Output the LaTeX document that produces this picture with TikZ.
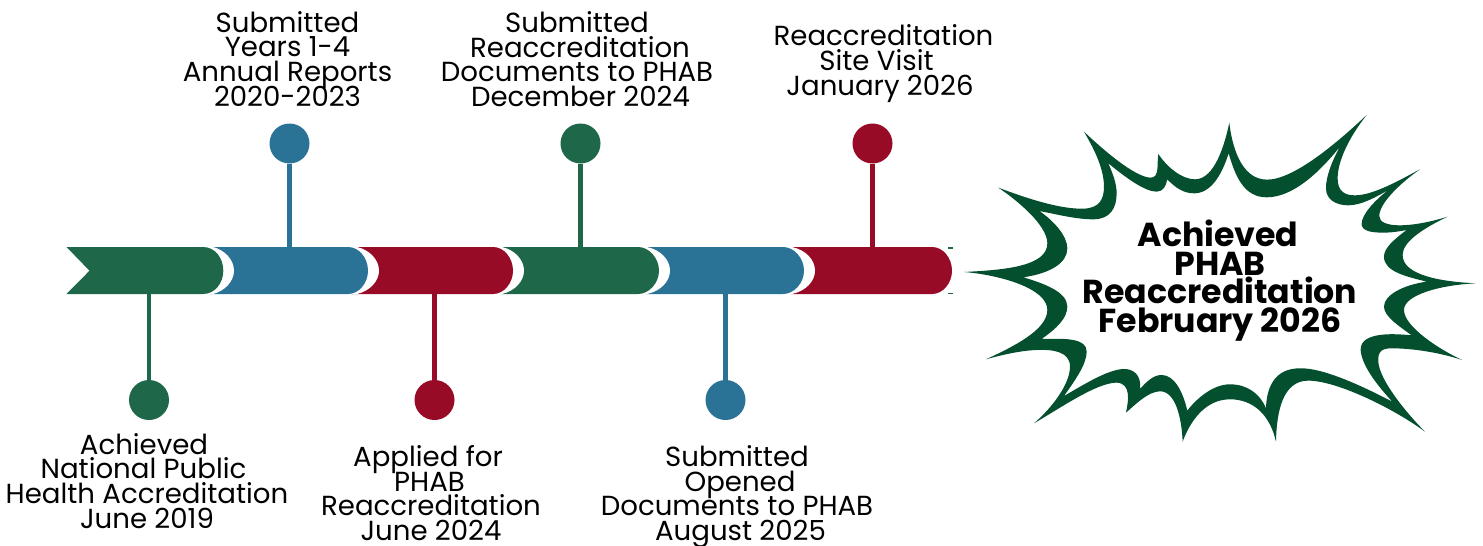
\documentclass[tikz,border=0pt]{standalone}
\usepackage{fontspec}
\setmainfont{Poppins}
\definecolor{tgreen}{HTML}{1E6849}
\definecolor{tblue}{HTML}{2A7396}
\definecolor{tred}{HTML}{970B26}
\definecolor{burst}{HTML}{034F2E}
\newcommand{\rs}[1]{\kern#1pt\hbox{}}
\newcommand{\ls}[1]{\hbox{}\kern#1pt}
\lineskiplimit=-100pt
\tikzset{
  dotnode/.style={circle,minimum size=40pt,inner sep=0pt,fill=#1,draw=none},
  stem/.style={line width=4.8pt,draw=#1},
  lab/.style={align=center,inner sep=0pt,font=\fontsize{27.6}{24.7}\selectfont},
  boldlab/.style={align=center,inner sep=0pt,font=\fontsize{33.2}{28.6}\selectfont\bfseries},
}
% start x, straight end x, tip x, colour
\newcommand{\barseg}[4]{%
  \fill[white] (#2-10,247) -- (#2+9,247) .. controls (#3+2,250) and (#3+11,260) .. (#3+11,270.7) .. controls (#3+11,281) and (#3+2,291) .. (#2+9,294) -- (#2-10,294) -- cycle;
  \fill[#4] (#1,247) -- (#2,247) .. controls (#2+11,247) and (#3,258) .. (#3,270.7) .. controls (#3,283) and (#2+11,294) .. (#2,294) -- (#1,294) -- cycle;
}
\begin{document}
\begin{tikzpicture}[x=1pt,y=-1pt]
\useasboundingbox (0,0) rectangle (1483,546);
% specks of the hidden next segment
\fill[tgreen] (948,247) rectangle (953,248.5);
\fill[tgreen] (948,292.5) rectangle (953,294);
% bar, right to left
\barseg{790}{932}{952}{tred}
\barseg{645}{783}{804}{tblue}
\barseg{500}{638}{659}{tgreen}
\barseg{352}{493}{513}{tred}
\barseg{210}{348}{368}{tblue}
\fill[white] (190,247) -- (213,247) .. controls (225,250) and (234,260) .. (234,270.7) .. controls (234,281) and (225,291) .. (213,294) -- (190,294) -- cycle;
\fill[tgreen] (66.5,247) -- (203,247) .. controls (215,247) and (223.3,258) .. (223.3,270.7) .. controls (223.3,283) and (215,294) .. (203,294) -- (66.5,294) -- (89.5,270.7) -- cycle;
% anchors on the bar
\coordinate (b1) at (149,293);
\coordinate (b2) at (289.5,248);
\coordinate (b3) at (434.5,293);
\coordinate (b4) at (580.5,248);
\coordinate (b5) at (725.5,293);
\coordinate (b6) at (872.5,248);
% dots
\node[dotnode=tgreen] (d1) at (149,400) {};
\node[dotnode=tblue]  (d2) at (289.5,143.5) {};
\node[dotnode=tred]   (d3) at (434.5,400) {};
\node[dotnode=tgreen] (d4) at (580.5,143.5) {};
\node[dotnode=tblue]  (d5) at (725.5,400) {};
\node[dotnode=tred]   (d6) at (872.5,143.5) {};
% stems
\draw[stem=tgreen] (d1) -- (b1);
\draw[stem=tblue]  (d2) -- (b2);
\draw[stem=tred]   (d3) -- (b3);
\draw[stem=tgreen] (d4) -- (b4);
\draw[stem=tblue]  (d5) -- (b5);
\draw[stem=tred]   (d6) -- (b6);
% labels
\node[lab] (t1) at (147,480.7) {Achieved\rs{6}\\National Public\rs{7}\\Health Accreditation\\June 2019};
\node[lab] (t2) at (287.5,58.7) {Submitted\\Years 1-4\\Annual Reports\\2020-2023};
\node[lab] (t3) at (431,493) {Applied for\rs{6}\\PHAB\rs{3}\\Reaccreditation\\June 2024};
\node[lab] (t4) at (577,59) {Submitted\\\ls{6}Reaccreditation\\Documents to PHAB\\\ls{7}December 2024};
\node[lab] (t5) at (737,496.7) {Submitted\\\ls{6}Opened\\Documents to PHAB\\\ls{7}August 2025};
\node[lab] (t6) at (883.5,63.5) {Reaccreditation\\Site Visit\rs{14}\\January 2026\rs{7}};
% burst
\begin{scope}[shift={(960,100)},x=0.3333pt,y=-0.3333pt]
\fill[burst,even odd rule]
 (12,516) .. controls (130,510) and (262,500) .. (262,430) .. controls (262,375) and (170,300) .. (115,263)
 .. controls (200,295) and (300,328) .. (370,326) .. controls (420,325) and (432,295) .. (432,260) .. controls (432,200) and (395,135) .. (372,95)
 .. controls (430,150) and (525,232) .. (572,233) .. controls (600,233) and (590,190) .. (595,162)
 .. controls (620,200) and (665,238) .. (705,238) .. controls (765,238) and (795,130) .. (808,68)
 .. controls (815,130) and (840,238) .. (920,239) .. controls (1000,240) and (1130,130) .. (1220,45)
 .. controls (1165,115) and (1133,185) .. (1133,235) .. controls (1133,275) and (1155,286) .. (1185,286) .. controls (1240,286) and (1320,240) .. (1380,208)
 .. controls (1320,250) and (1258,310) .. (1258,348) .. controls (1258,385) and (1350,385) .. (1463,350)
 .. controls (1390,385) and (1328,425) .. (1328,465) .. controls (1328,525) and (1440,545) .. (1548,550)
 .. controls (1440,555) and (1332,585) .. (1332,630) .. controls (1332,680) and (1440,750) .. (1507,780)
 .. controls (1430,755) and (1350,745) .. (1295,745) .. controls (1265,745) and (1253,755) .. (1255,785) .. controls (1258,840) and (1340,940) .. (1395,995)
 .. controls (1300,925) and (1130,842) .. (1045,842) .. controls (970,842) and (950,930) .. (948,1025)
 .. controls (930,945) and (880,898) .. (810,898) .. controls (735,898) and (690,965) .. (668,1025)
 .. controls (665,950) and (645,873) .. (600,874) .. controls (565,875) and (530,910) .. (498,938)
 .. controls (505,905) and (515,850) .. (470,848) .. controls (410,848) and (300,925) .. (222,970)
 .. controls (280,920) and (330,850) .. (330,800) .. controls (330,755) and (280,748) .. (230,750) .. controls (180,752) and (125,765) .. (78,778)
 .. controls (160,740) and (262,690) .. (262,630) .. controls (262,565) and (120,525) .. (12,516) -- cycle
 (190,532) .. controls (270,520) and (322,490) .. (322,445) .. controls (322,410) and (285,365) .. (238,333)
 .. controls (300,345) and (350,358) .. (400,358) .. controls (450,358) and (470,325) .. (470,280) .. controls (470,250) and (458,220) .. (445,190)
 .. controls (500,235) and (555,275) .. (590,275) .. controls (610,275) and (618,258) .. (622,238)
 .. controls (645,262) and (670,281) .. (705,280) .. controls (760,278) and (790,210) .. (806,160)
 .. controls (825,225) and (850,292) .. (920,292) .. controls (1000,292) and (1080,215) .. (1140,140)
 .. controls (1115,185) and (1098,230) .. (1098,265) .. controls (1098,300) and (1130,316) .. (1165,316) .. controls (1205,316) and (1250,290) .. (1285,270)
 .. controls (1240,305) and (1205,345) .. (1205,372) .. controls (1205,395) and (1240,398) .. (1270,398) .. controls (1295,398) and (1320,394) .. (1340,390)
 .. controls (1300,420) and (1272,445) .. (1272,470) .. controls (1272,515) and (1340,530) .. (1400,545)
 .. controls (1330,555) and (1272,585) .. (1272,620) .. controls (1272,650) and (1320,680) .. (1355,706)
 .. controls (1320,703) and (1200,690) .. (1202,750) .. controls (1205,800) and (1260,865) .. (1297,905)
 .. controls (1210,860) and (1090,803) .. (1020,805) .. controls (945,805) and (920,860) .. (918,925)
 .. controls (900,880) and (860,853) .. (810,853) .. controls (760,853) and (710,895) .. (682,932)
 .. controls (670,880) and (645,825) .. (605,825) .. controls (580,825) and (560,845) .. (540,867)
 .. controls (545,825) and (520,806) .. (490,807) .. controls (440,810) and (370,855) .. (312,888)
 .. controls (350,835) and (380,790) .. (380,755) .. controls (380,715) and (320,715) .. (245,717)
 .. controls (290,685) and (322,655) .. (322,620) .. controls (322,575) and (250,550) .. (190,532) -- cycle;
\end{scope}
\node[boldlab] (t7) at (1220,280.5) {Achieved\rs{4}\\PHAB\\Reaccreditation\\February 2026};
\end{tikzpicture}
\end{document}
